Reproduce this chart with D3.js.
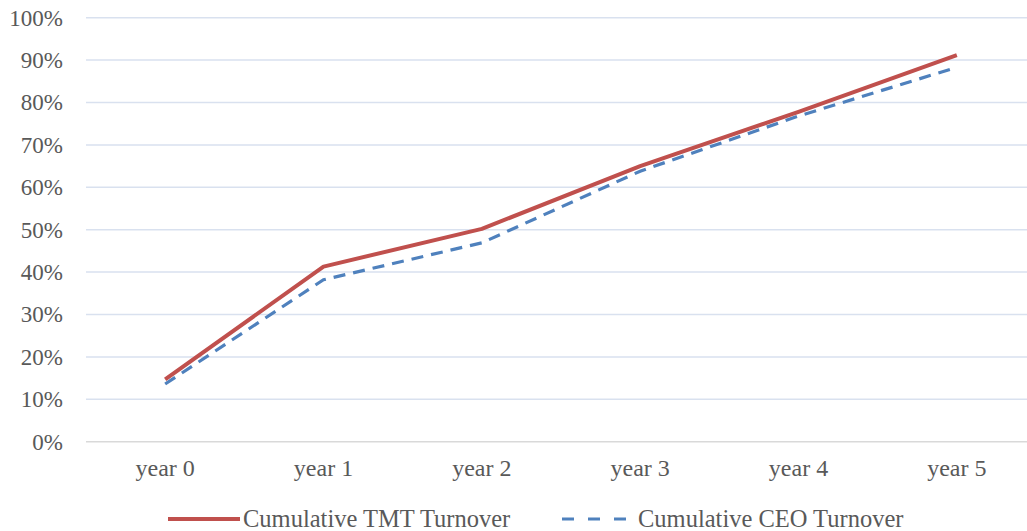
<!DOCTYPE html>
<html>
<head>
<meta charset="utf-8">
<script src="https://cdn.jsdelivr.net/npm/d3@7"></script>
<style>
  body { margin: 0; background: #fff; }
  svg { display: block; font-family: "Liberation Serif", "Times New Roman", serif; }
</style>
</head>
<body>
<div id="app"></div>
<script>
const years = ["year 0", "year 1", "year 2", "year 3", "year 4", "year 5"];
const tmtTurnover = [0.147, 0.413, 0.502, 0.650, 0.778, 0.912];
const ceoTurnover = [0.136, 0.382, 0.469, 0.638, 0.768, 0.883];
const yTicks = [0, 0.1, 0.2, 0.3, 0.4, 0.5, 0.6, 0.7, 0.8, 0.9, 1.0];
const seriesNames = ["Cumulative TMT Turnover", "Cumulative CEO Turnover"];

const chart = () => {
  const width = 1027;
  const height = 531;
  const marginLeft = 86;
  const plotRight = 1036;
  const marginTop = 17.7;
  const plotBottom = 441.7;

  const svg = d3.create("svg").attr("width", width).attr("height", height);

  const x = d3.scaleBand().domain(years).range([marginLeft, plotRight]);
  const y = d3.scaleLinear().domain([0, 1]).range([plotBottom, marginTop]);

  // gridlines
  svg.append("g")
    .selectAll("line")
    .data(yTicks.filter((d) => d > 0))
    .join("line")
    .attr("x1", marginLeft)
    .attr("x2", plotRight)
    .attr("y1", (d) => y(d))
    .attr("y2", (d) => y(d))
    .attr("stroke", "#d9e1ef")
    .attr("stroke-width", 1.5);

  // baseline
  svg.append("line")
    .attr("x1", marginLeft)
    .attr("x2", plotRight)
    .attr("y1", y(0))
    .attr("y2", y(0))
    .attr("stroke", "#d9d9d9")
    .attr("stroke-width", 1.5);

  // y axis labels
  const yAxis = svg.append("g")
    .attr("transform", `translate(${marginLeft - 23},0)`)
    .call(d3.axisLeft(y).tickValues(yTicks).tickFormat(d3.format(".0%")).tickSize(0).tickPadding(0));
  yAxis.select(".domain").remove();
  yAxis.selectAll("text")
    .attr("font-family", "Liberation Serif")
    .attr("font-size", 23)
    .attr("fill", "#595959");

  // x axis labels
  const xAxis = svg.append("g")
    .attr("transform", `translate(0,${plotBottom + 17})`)
    .call(d3.axisBottom(x).tickSize(0).tickPadding(0));
  xAxis.select(".domain").remove();
  xAxis.selectAll("text")
    .attr("font-family", "Liberation Serif")
    .attr("font-size", 24)
    .attr("fill", "#595959");

  const line = d3.line()
    .x((d, i) => x(years[i]) + x.bandwidth() / 2)
    .y((d) => y(d));

  svg.append("path")
    .datum(ceoTurnover)
    .attr("fill", "none")
    .attr("stroke", "#4f81bd")
    .attr("stroke-width", 3.2)
    .attr("stroke-dasharray", "12,8")
    .attr("d", line);

  svg.append("path")
    .datum(tmtTurnover)
    .attr("fill", "none")
    .attr("stroke", "#c0504d")
    .attr("stroke-width", 4)
    .attr("stroke-linejoin", "round")
    .attr("d", line);

  // legend
  const legend = svg.append("g").attr("transform", "translate(0,519)");
  legend.append("line")
    .attr("x1", 168).attr("x2", 240)
    .attr("stroke", "#c0504d").attr("stroke-width", 4);
  legend.append("text")
    .attr("x", 243).attr("dy", "0.33em")
    .attr("font-size", 24.5).attr("fill", "#595959")
    .text(seriesNames[0]);
  legend.append("line")
    .attr("x1", 562).attr("x2", 626)
    .attr("stroke", "#4f81bd").attr("stroke-width", 3.2)
    .attr("stroke-dasharray", "12,14");
  legend.append("text")
    .attr("x", 638).attr("dy", "0.33em")
    .attr("font-size", 24.5).attr("fill", "#595959")
    .text(seriesNames[1]);

  return svg.node();
};

d3.select("#app").append(chart);
</script>
</body>
</html>
